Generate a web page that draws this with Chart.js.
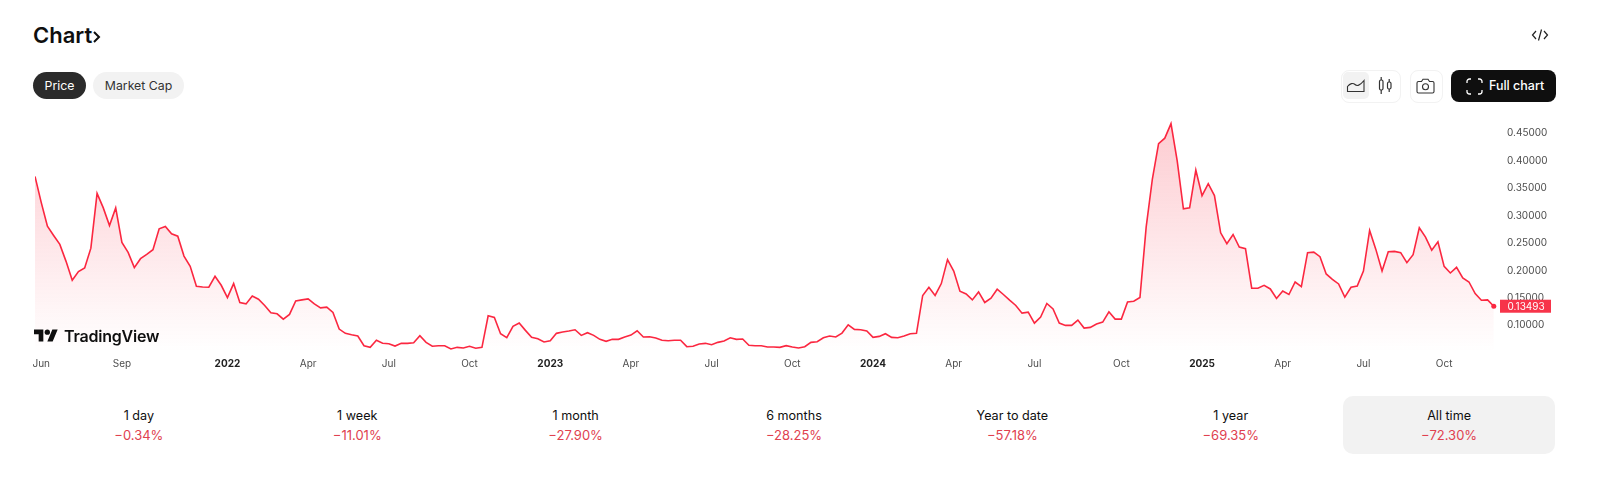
<!DOCTYPE html>
<html>
<head>
<meta charset="utf-8">
<title>Chart</title>
<script src="https://cdn.jsdelivr.net/npm/chart.js@4"></script>
<style>
    html, body { margin: 0; background: #fff; width: 1600px; height: 491px; overflow: hidden; font-family: Inter, sans-serif; color: #0f0f0f; }
    .abs { position: absolute; }
    #chartCanvas { position: absolute; left: 0; top: 100px; }
    .title { left: 33px; top: 21px; font-size: 22px; line-height: 28px; font-weight: 600; }
    .pill { top: 72px; height: 27px; line-height: 28px; border-radius: 14px; text-align: center; font-size: 12.3px; }
    .box { top: 69.5px; height: 31px; border: 1px solid #f2f2f2; border-radius: 8px; box-sizing: content-box; }
    .fullBtn { left: 1451px; top: 70px; width: 105px; height: 32px; background: #0f0f0f; border-radius: 8px; }
    .fullBtn span { position: absolute; left: 38px; top: 0; line-height: 32px; font-size: 12.5px; font-weight: 500; color: #fff; white-space: nowrap; }
    .brand { left: 64px; top: 325px; font-size: 16px; line-height: 22px; font-weight: 600; letter-spacing: -0.2px; color: #0f0f0f; }
    #stats { position: absolute; left: 33px; top: 396px; width: 1522px; height: 58px; display: flex; gap: 6.67px; }
    .cell { flex: 1; border-radius: 10px; text-align: center; font-size: 12.6px; }
    .cell.active { background: #f2f2f2; }
    .cell div { line-height: 19px; }
    .cell .name { margin-top: 10px; }
    .cell .chg { color: #e0414f; margin-top: 1px; font-size: 13px; }
</style>
</head>
<body>
<div class="abs title">Chart</div>
<svg class="abs" style="left:92px;top:30px" width="9" height="14" viewBox="0 0 9 14"><path d="M2 2l5 5-5 5" fill="none" stroke="#0f0f0f" stroke-width="2"/></svg>
<svg class="abs" style="left:1531px;top:28px" width="18" height="14" viewBox="0 0 18 14" fill="none" stroke="#222" stroke-width="1.2"><path d="M5 3L1.5 7 5 11M13 3l3.5 4L13 11M10.5 1.5l-3 11"/></svg>

<div class="abs pill" style="left:33px;width:53px;background:#2b2b2b;color:#fff">Price</div>
<div class="abs pill" style="left:93px;width:91px;background:#f2f2f2;color:#333">Market Cap</div>

<div class="abs box" style="left:1341px;width:58px"></div>
<div class="abs" style="left:1343px;top:72px;width:26px;height:27px;background:#f2f2f2;border-radius:5px"></div>
<svg class="abs" style="left:1346px;top:78px" width="20" height="15" viewBox="0 0 20 15" fill="none" stroke="#333" stroke-width="1.1"><path d="M1.5 13.5V8.5C4 5.5 7 4.5 9 6.5S14 7.5 18 2.5V13.5Z"/></svg>
<svg class="abs" style="left:1378px;top:76px" width="15" height="19" viewBox="0 0 15 19" fill="none" stroke="#333" stroke-width="1.2"><rect x="1.5" y="4" width="3.5" height="10" rx="1.5"/><rect x="9.5" y="6" width="3.5" height="7" rx="1.5"/><path d="M3.2 1v3M3.2 14v4M11.2 3v3M11.2 13v3"/></svg>
<div class="abs box" style="left:1410px;width:31px"></div>
<svg class="abs" style="left:1416px;top:78px" width="19" height="16" viewBox="0 0 19 16" fill="none" stroke="#333" stroke-width="1.1"><path d="M2.5 3.5h3L7 1.2h5l1.5 2.3h3a1.5 1.5 0 0 1 1.5 1.5v8.500a1.500 1.500 0 0 1-1.500 1.500h-14A1.500 1.500 0 0 1 1 13.500V5a1.500 1.500 0 0 1 1.500-1.500z"/><circle cx="9.500" cy="8.700" r="3"/></svg>
<div class="abs fullBtn">
    <svg class="abs" style="left:15px;top:8px" width="17" height="17" viewBox="0 0 17 17" fill="none" stroke="#fff" stroke-width="1.3"><path d="M1 5V3.500A2.500 2.500 0 0 1 3.500 1H5M12 1h1.500A2.500 2.500 0 0 1 16 3.500V5M16 12v1.500a2.500 2.500 0 0 1-2.500 2.500H12M5 16H3.500A2.500 2.500 0 0 1 1 13.500V12"/></svg>
    <span>Full chart</span>
</div>

<canvas id="chartCanvas" width="1600" height="280"></canvas>

<svg class="abs" style="left:34px;top:329px" width="24" height="13" viewBox="0 4 36 18" fill="#0f0f0f"><path d="M14 22H7V11H0V4h14v18zM28 22h-8l7.500-18h8L28 22z"/><circle cx="20" cy="8" r="4"/></svg>
<div class="abs brand">TradingView</div>

<div id="stats"></div>

<script>
// weekly closes
const weeklyPrices = [
    0.3715, 0.3243, 0.2808, 0.2639, 0.2476, 0.2167, 0.1822, 0.1980, 0.2045, 0.2408,
    0.3407, 0.3142, 0.2820, 0.3142, 0.2512, 0.2330, 0.2053, 0.2216, 0.2294, 0.2379,
    0.2761, 0.2802, 0.2670, 0.2626, 0.2263, 0.2076, 0.1713, 0.1701, 0.1695, 0.1895,
    0.1731, 0.1508, 0.1762, 0.1417, 0.1392, 0.1537, 0.1477, 0.1363, 0.1229, 0.1211,
    0.1114, 0.1200, 0.1446, 0.1465, 0.1483, 0.1392, 0.1319, 0.1332, 0.1236, 0.0933,
    0.0855, 0.0829, 0.0806, 0.0630, 0.0600, 0.0728, 0.0673, 0.0666, 0.0624, 0.0673,
    0.0673, 0.0684, 0.0811, 0.0691, 0.0619, 0.0630, 0.0630, 0.0570, 0.0600, 0.0588,
    0.0619, 0.0583, 0.0600, 0.1174, 0.1145, 0.0848, 0.0775, 0.0982, 0.1042, 0.0909,
    0.0782, 0.0757, 0.0697, 0.0720, 0.0855, 0.0878, 0.0897, 0.0920, 0.0818, 0.0866,
    0.0818, 0.0746, 0.0710, 0.0746, 0.0746, 0.0788, 0.0824, 0.0902, 0.0788, 0.0793,
    0.0769, 0.0728, 0.0720, 0.0728, 0.0728, 0.0612, 0.0619, 0.0661, 0.0673, 0.0648,
    0.0691, 0.0715, 0.0775, 0.0746, 0.0751, 0.0637, 0.0630, 0.0630, 0.0606, 0.0606,
    0.0600, 0.0630, 0.0606, 0.0588, 0.0612, 0.0691, 0.0702, 0.0775, 0.0806, 0.0788,
    0.0860, 0.1011, 0.0927, 0.0920, 0.0897, 0.0782, 0.0800, 0.0848, 0.0782, 0.0775,
    0.0806, 0.0848, 0.0855, 0.1545, 0.1695, 0.1545, 0.1762, 0.2198, 0.1991, 0.1623,
    0.1574, 0.1465, 0.1610, 0.1417, 0.1495, 0.1659, 0.1563, 0.1459, 0.1363, 0.1223,
    0.1241, 0.1042, 0.1151, 0.1399, 0.1301, 0.1042, 0.1000, 0.1000, 0.1096, 0.0951,
    0.0964, 0.1024, 0.1060, 0.1247, 0.1114, 0.1114, 0.1428, 0.1441, 0.1508, 0.2790,
    0.3668, 0.4314, 0.4412, 0.4677, 0.4000, 0.3124, 0.3142, 0.3831, 0.3365, 0.3583,
    0.3365, 0.2688, 0.2488, 0.2657, 0.2427, 0.2398, 0.1677, 0.1677, 0.1731, 0.1664,
    0.1490, 0.1628, 0.1563, 0.1791, 0.1708, 0.2325, 0.2336, 0.2252, 0.1937, 0.1840,
    0.1755, 0.1514, 0.1695, 0.1719, 0.1991, 0.2730, 0.2385, 0.1991, 0.2343, 0.2349,
    0.2325, 0.2143, 0.2289, 0.2779, 0.2608, 0.2372, 0.2525, 0.2076, 0.1955, 0.2058,
    0.1864, 0.1791, 0.1581, 0.1459, 0.1465, 0.13493
];
const tickWeeks = [1, 14, 31, 44, 57, 70, 83, 96, 109, 122, 135, 148, 161, 175, 188, 201, 214, 227];
const tickNames = ['Jun', 'Sep', '2022', 'Apr', 'Jul', 'Oct', '2023', 'Apr', 'Jul', 'Oct', '2024', 'Apr', 'Jul', 'Oct', '2025', 'Apr', 'Jul', 'Oct'];
const priceTicks = [0.10, 0.15, 0.20, 0.25, 0.30, 0.35, 0.40, 0.45];
const periodNames = ['1 day', '1 week', '1 month', '6 months', 'Year to date', '1 year', 'All time'];
const periodChanges = ['−0.34%', '−11.01%', '−27.90%', '−28.25%', '−57.18%', '−69.35%', '−72.30%'];

const lineColor = '#fb2740';

// the year ticks are bold, the months are not
const isYearTick = (ctx) => {
    if (!ctx.tick) return false;
    return /^\d/.test(tickNames[tickWeeks.indexOf(ctx.tick.value)] || '');
};

periodNames.forEach((name, index) => {
    const cell = document.createElement('div');
    cell.className = 'cell' + (index === periodNames.length - 1 ? ' active' : '');
    cell.innerHTML = '<div class="name">' + name + '</div><div class="chg">' + periodChanges[index] + '</div>';
    document.getElementById('stats').appendChild(cell);
});

// red box with the last price on the right scale
const lastPriceLabel = {
    id: 'lastPriceLabel',
    afterDraw(chart) {
        const ctx = chart.ctx;
        const last = weeklyPrices[weeklyPrices.length - 1];
        const y = chart.scales.y.getPixelForValue(last);
        ctx.save();
        ctx.fillStyle = '#f7344a';
        ctx.fillRect(1500, y - 6.5, 51, 13);
        ctx.fillStyle = '#fff';
        ctx.font = '10px Inter';
        ctx.textBaseline = 'middle';
        ctx.fillText(last.toFixed(5), 1507.5, y + 0.5);
        ctx.restore();
    }
};

const chart = new Chart(document.getElementById('chartCanvas').getContext('2d'), {
    type: 'line',
    data: {
        datasets: [{
            data: weeklyPrices.map((price, week) => ({ x: week, y: price })),
            borderColor: lineColor,
            borderWidth: 1.6,
            tension: 0,
            pointRadius: (ctx) => ctx.dataIndex === weeklyPrices.length - 1 ? 2.5 : 0,
            pointBackgroundColor: lineColor,
            pointBorderWidth: 0,
            fill: 'start',
            backgroundColor: (ctx) => {
                const area = ctx.chart.chartArea;
                if (!area) return 'rgba(255, 38, 64, 0.1)';
                const gradient = ctx.chart.ctx.createLinearGradient(0, area.top, 0, area.bottom);
                gradient.addColorStop(0, 'rgba(247, 41, 63, 0.25)');
                gradient.addColorStop(1, 'rgba(247, 41, 63, 0)');
                return gradient;
            }
        }]
    },
    options: {
        responsive: false,
        animation: false,
        layout: { padding: { left: 35, top: 12, right: 0, bottom: 0 } },
        plugins: { legend: { display: false }, tooltip: { enabled: false } },
        scales: {
            x: {
                type: 'linear',
                min: 0,
                max: 236,
                grid: { display: false, drawTicks: false },
                border: { display: false },
                afterBuildTicks: (axis) => { axis.ticks = tickWeeks.map((value) => ({ value })); },
                afterFit: (axis) => { axis.height = 28; },
                ticks: {
                    autoSkip: false,
                    maxRotation: 0,
                    padding: 6,
                    callback: (value) => tickNames[tickWeeks.indexOf(value)],
                    color: (ctx) => isYearTick(ctx) ? '#222' : '#4d4d4d',
                    font: (ctx) => ({ family: 'Inter', size: 10, weight: isYearTick(ctx) ? '700' : '400' })
                }
            },
            y: {
                position: 'right',
                min: 0.0515,
                max: 0.4871,
                grid: { display: false, drawTicks: false },
                border: { display: false },
                afterBuildTicks: (axis) => { axis.ticks = priceTicks.map((value) => ({ value })); },
                afterFit: (axis) => { axis.width = 100; },
                ticks: {
                    padding: 7,
                    color: '#4d4d4d',
                    font: { family: 'Inter', size: 10 },
                    callback: (value) => value.toFixed(5)
                }
            }
        }
    },
    plugins: [lastPriceLabel]
});
</script>
</body>
</html>
